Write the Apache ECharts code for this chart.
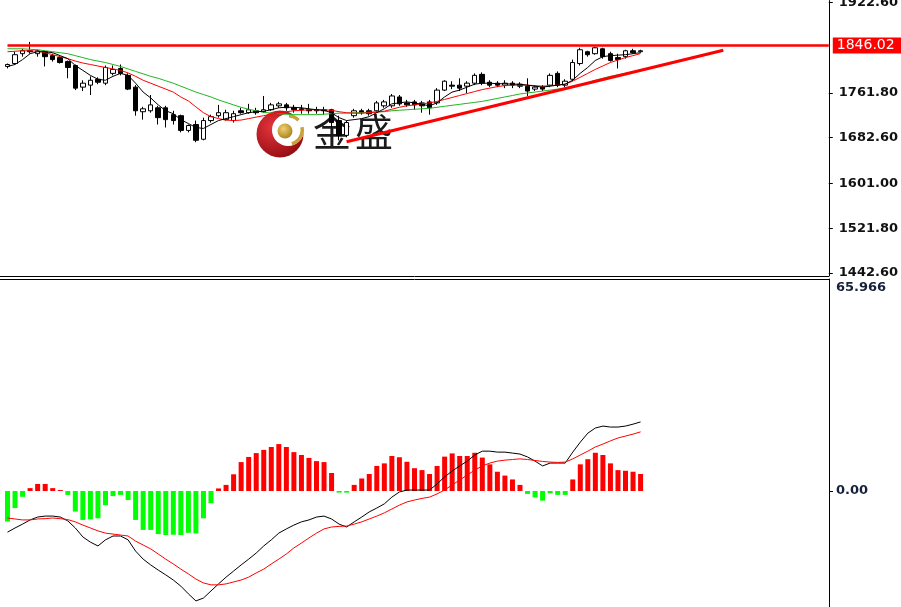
<!DOCTYPE html>
<html><head><meta charset="utf-8">
<script src="https://cdn.jsdelivr.net/npm/echarts@6/dist/echarts.min.js"></script>
<style>html,body{margin:0;padding:0;background:#fff;overflow:hidden;width:901px;height:607px;position:relative}
#c{position:absolute;left:0;top:-4px;width:901px;height:611px}</style>
</head><body><div id="c"></div><script>
// ---- data ----
// candles: [open, close, low, high]
const ohlc = [
[1809.0,1812.5,1805.5,1814.2],[1814.2,1829.9,1812.5,1835.2],[1831.7,1836.9,1826.4,1840.4],[1836.9,1835.2,1831.7,1852.6],
[1831.7,1836.9,1826.4,1838.7],[1835.2,1826.4,1809.0,1836.9],[1828.2,1821.2,1817.7,1831.7],[1824.7,1816.0,1814.2,1828.2],
[1817.7,1807.2,1788.0,1819.5],[1810.7,1770.5,1767.0,1812.5],[1772.3,1779.3,1765.3,1784.5],[1775.8,1784.5,1758.3,1791.5],
[1786.3,1781.0,1777.5,1789.7],[1779.3,1807.2,1775.8,1810.7],[1796.7,1803.7,1793.2,1810.7],[1805.5,1796.7,1793.2,1812.5],
[1793.2,1768.8,1767.0,1796.7],[1772.3,1730.3,1721.6,1775.8],[1728.6,1733.8,1714.6,1737.3],[1730.3,1740.8,1726.9,1758.3],
[1735.6,1718.1,1705.9,1739.1],[1735.6,1714.6,1700.6,1739.1],[1723.4,1712.9,1705.9,1730.3],[1721.6,1695.4,1691.9,1723.4],
[1695.4,1704.1,1691.9,1705.9],[1705.9,1677.9,1674.5,1712.9],[1679.7,1712.9,1677.9,1718.1],[1712.9,1719.9,1709.4,1723.4],
[1721.6,1726.9,1718.1,1740.8],[1714.6,1726.9,1712.9,1732.1],[1712.9,1725.1,1709.4,1730.3],[1730.3,1726.9,1725.1,1735.6],
[1726.9,1732.1,1725.1,1742.6],[1730.3,1726.9,1723.4,1735.6],[1728.6,1732.1,1726.9,1756.6],[1732.1,1740.8,1730.3,1744.3],
[1739.1,1742.6,1735.6,1746.1],[1740.8,1735.6,1730.3,1744.3],[1735.6,1732.1,1726.9,1740.8],[1733.8,1732.1,1725.1,1740.8],
[1732.1,1730.3,1725.1,1742.6],[1730.3,1732.1,1725.1,1737.3],[1732.1,1730.3,1723.4,1737.3],[1732.1,1709.4,1700.6,1733.8],
[1712.9,1686.6,1677.9,1721.6],[1686.6,1709.4,1683.2,1712.9],[1721.6,1730.3,1718.1,1733.8],[1730.3,1726.9,1723.4,1733.8],
[1730.3,1725.1,1721.6,1733.8],[1730.3,1744.3,1726.9,1747.8],[1739.1,1746.1,1735.6,1749.6],[1739.1,1756.6,1735.6,1760.1],
[1754.8,1742.6,1739.1,1758.3],[1744.3,1740.8,1737.3,1749.6],[1746.1,1740.8,1732.1,1749.6],[1744.3,1739.1,1726.9,1747.8],
[1746.1,1735.6,1723.4,1749.6],[1744.3,1767.0,1740.8,1770.5],[1767.0,1782.8,1765.3,1784.5],[1775.8,1774.0,1768.8,1782.8],
[1775.8,1770.5,1765.3,1788.0],[1774.0,1779.3,1761.8,1782.8],[1779.3,1793.2,1775.8,1796.7],[1795.0,1779.3,1775.8,1798.5],
[1781.0,1775.8,1772.3,1784.5],[1779.3,1775.8,1772.3,1782.8],[1775.8,1779.3,1770.5,1784.5],[1779.3,1775.8,1770.5,1782.8],
[1777.5,1774.0,1770.5,1781.0],[1774.0,1765.3,1756.6,1788.0],[1768.8,1772.3,1765.3,1775.8],[1772.3,1768.8,1765.3,1775.8],
[1775.8,1793.2,1772.3,1796.7],[1796.7,1775.8,1772.3,1800.2],[1775.8,1782.8,1772.3,1786.3],[1786.3,1816.0,1782.8,1821.2],
[1814.2,1838.7,1810.7,1842.2],[1835.2,1829.9,1826.4,1836.9],[1831.7,1842.2,1829.9,1843.9],[1840.4,1826.4,1822.9,1842.2],
[1831.7,1819.5,1817.7,1835.2],[1824.7,1821.2,1805.5,1831.7],[1826.4,1836.9,1822.9,1838.7],[1836.9,1833.4,1831.7,1840.4],
[1835.2,1836.9,1833.4,1838.7]
];
const maFast = [1809.0,1812.5,1821.2,1831.7,1835.2,1835.2,1833.4,1828.2,1822.9,1810.7,1802.0,1793.2,1786.3,1784.5,1791.5,1796.7,1793.2,1779.3,1763.5,1753.1,1740.8,1730.3,1725.1,1714.6,1707.6,1700.7,1698.9,1705.9,1712.9,1716.4,1719.9,1723.4,1726.9,1728.6,1729.5,1732.1,1735.6,1736.5,1736.5,1735.6,1733.8,1732.1,1731.2,1726.9,1718.1,1712.9,1714.6,1716.4,1719.9,1726.9,1733.8,1742.6,1744.3,1746.1,1744.3,1741.7,1739.1,1744.3,1754.8,1763.5,1767.0,1772.3,1777.5,1779.3,1779.3,1778.4,1778.4,1777.5,1777.5,1775.8,1774.0,1772.3,1774.0,1775.8,1777.5,1784.5,1796.7,1807.2,1819.5,1826.4,1828.2,1829.1,1829.9,1831.7,1833.4];
const maMid = [1835.2,1836.0,1836.9,1836.9,1836.0,1833.4,1829.9,1826.4,1822.9,1818.6,1815.1,1812.5,1809.8,1807.2,1804.6,1802.0,1797.6,1791.5,1784.5,1779.3,1774.0,1768.8,1763.5,1754.8,1747.8,1737.3,1726.9,1719.9,1716.4,1713.8,1712.9,1713.8,1716.4,1719.0,1721.6,1724.2,1726.9,1728.6,1730.3,1731.2,1732.1,1732.1,1732.1,1731.2,1728.6,1726.9,1726.0,1726.0,1726.9,1727.7,1729.5,1733.0,1736.5,1739.1,1740.8,1742.6,1744.3,1747.0,1750.4,1753.9,1757.4,1760.9,1764.4,1767.9,1770.5,1773.2,1774.9,1775.8,1775.8,1775.8,1774.9,1774.0,1774.9,1775.8,1777.5,1782.8,1789.7,1796.7,1803.7,1809.8,1816.0,1820.3,1824.7,1828.2,1831.7];
const maSlow = [1840.4,1840.4,1840.4,1839.5,1838.7,1836.9,1835.2,1833.4,1831.7,1828.2,1824.7,1821.2,1818.6,1816.0,1812.5,1809.0,1804.6,1800.2,1795.9,1791.5,1788.0,1783.6,1779.3,1774.0,1768.8,1763.5,1759.2,1754.8,1749.6,1745.2,1740.8,1736.5,1733.0,1730.3,1727.7,1726.0,1725.1,1724.2,1723.4,1723.4,1723.4,1723.4,1724.2,1725.1,1726.0,1726.0,1726.9,1726.9,1727.7,1728.6,1728.6,1730.3,1731.2,1732.1,1733.0,1733.8,1734.7,1736.5,1738.2,1740.0,1741.7,1743.5,1745.2,1747.0,1749.6,1752.2,1754.8,1757.4,1760.1,1761.8,1763.5,1765.3,1767.0,1768.8,1770.5,1773.2,1776.7,1780.1,1784.5,1788.0,1791.5,1794.1,1796.7,1799.4,1802.0];
const macdHist = [-9.5,-5.3,-1.8,0.9,2.2,2.2,0.9,0.3,-1.2,-6.4,-9.0,-8.8,-8.5,-4.4,-1.6,-1.2,-2.8,-9.0,-12.1,-12.1,-13.4,-13.7,-13.6,-13.7,-13.0,-13.2,-8.5,-3.8,0.8,1.9,5.2,9.0,10.6,11.8,12.8,13.7,14.6,13.7,12.1,11.2,10.3,9.3,9.0,5.6,-0.5,-0.5,1.9,3.9,5.3,7.8,8.6,10.9,10.5,9.1,7.1,6.5,5.3,7.8,10.7,11.7,10.9,10.9,11.9,10.4,8.3,6.0,4.8,3.6,1.9,-0.9,-2.0,-3.0,-0.7,-1.2,-1.2,3.6,8.3,9.9,11.9,11.2,8.6,6.5,6.3,6.0,5.3];
const macdMain = [-12.8,-11.5,-10.3,-9.0,-8.1,-7.8,-7.8,-8.1,-9.3,-11.5,-14.3,-15.9,-17.1,-15.2,-14.0,-14.0,-15.2,-18.7,-21.2,-23.0,-24.6,-26.1,-27.7,-29.6,-32.0,-34.2,-33.3,-31.1,-28.9,-26.8,-24.9,-23.0,-21.2,-19.3,-17.1,-15.2,-13.1,-11.8,-10.6,-9.6,-9.0,-8.1,-7.8,-8.7,-10.3,-11.2,-9.6,-8.1,-6.5,-5.3,-4.0,-1.9,-0.3,0.3,0.3,0.3,0.3,2.2,4.4,6.2,7.8,9.3,11.2,12.4,12.4,12.1,12.1,11.8,11.5,10.6,9.3,7.8,8.7,8.7,8.7,12.1,15.2,18.0,19.6,20.2,19.9,19.9,20.2,20.8,21.5];
const macdSignal = [-8.4,-8.7,-9.0,-9.0,-8.7,-8.6,-8.4,-8.6,-8.9,-9.6,-10.6,-11.5,-12.4,-13.1,-13.4,-13.7,-14.0,-15.6,-16.8,-18.0,-19.6,-21.2,-22.7,-24.3,-25.8,-27.4,-28.6,-29.2,-29.2,-28.9,-28.3,-27.7,-26.8,-25.5,-24.3,-22.7,-21.2,-19.6,-17.7,-16.2,-14.6,-13.1,-11.8,-11.2,-11.0,-10.9,-10.3,-9.6,-8.7,-7.8,-6.8,-5.6,-4.4,-3.4,-2.8,-2.3,-1.9,-0.9,0.3,1.9,3.4,5.0,6.5,7.8,8.7,9.3,9.6,9.8,10.0,9.8,9.5,9.2,9.0,8.9,9.0,10.0,11.2,12.4,13.7,14.6,15.6,16.5,17.1,17.7,18.4];
const priceTicks = [1442.6, 1521.8, 1601.0, 1682.6, 1761.8, 1922.6];
const macdTicks = [0, 65.966];
const lastPrice = 1846.02;
const trendLine = [[45, 1675.3], [95, 1837.8]];
const slotCount = 110; // chart slots incl. empty right margin
const categories = Array.from({length: slotCount}, (_, i) => String(i));

// ---- chart (container shifted up 4px so the top price label is cut like the original) ----
const OY = 4; // offset between page y and chart y
const chart = echarts.init(document.getElementById('c'), null, {renderer: 'canvas'});
const LBL = {fontFamily: '"DejaVu Sans", Verdana, sans-serif', fontSize: 13, fontWeight: 'bold'};
const option = {
  animation: false,
  backgroundColor: '#fff',
  grid: [
    {left: 7.5, right: 72, top: 0, height: 276 + OY},
    {left: 7.5, right: 72, top: 279 + OY, bottom: 0}
  ],
  xAxis: [
    {type: 'category', gridIndex: 0, data: categories, boundaryGap: false, show: false},
    {type: 'category', gridIndex: 1, data: categories, boundaryGap: false, show: false}
  ],
  yAxis: [
    {type: 'value', gridIndex: 0, position: 'right', min: 1436.85, max: 1926.0,
     splitLine: {show: false},
     axisLine: {show: true, lineStyle: {color: '#000', width: 1}},
     axisTick: {show: true, inside: false, length: 4, customValues: priceTicks, lineStyle: {color: '#000'}},
     axisLabel: Object.assign({show: true, margin: 10, color: '#111', customValues: priceTicks,
       formatter: v => v.toFixed(2)}, LBL)},
    {type: 'value', gridIndex: 1, position: 'right', min: -36.09, max: 65.966,
     splitLine: {show: false},
     axisLine: {show: true, lineStyle: {color: '#000', width: 1}},
     axisTick: {show: true, inside: false, length: 4, customValues: [0], lineStyle: {color: '#000'}},
     axisLabel: Object.assign({show: true, margin: 7, color: '#16213a', customValues: macdTicks,
       formatter: v => (v === 0 ? v.toFixed(2) : '{top|' + v.toFixed(3) + '}'),
       rich: {top: Object.assign({padding: [17, 0, 0, 0], color: '#16213a'}, LBL)}}, LBL)}
  ],
  graphic: [
    {type: 'line', silent: true, z: 5, shape: {x1: 0, y1: 276.5 + OY, x2: 829, y2: 276.5 + OY}, style: {stroke: '#000', lineWidth: 1}},
    {type: 'line', silent: true, z: 5, shape: {x1: 0, y1: 279.5 + OY, x2: 829, y2: 279.5 + OY}, style: {stroke: '#000', lineWidth: 1}},
    {type: 'group', silent: true, z: 0, x: 0, y: OY, children: [
      {type: 'circle', shape: {cx: 280, cy: 134, r: 23.5},
       style: {fill: new echarts.graphic.RadialGradient(0.35, 0.35, 0.75, [{offset: 0, color: '#e5343c'}, {offset: 1, color: '#8f0a10'}])}},
      {type: 'circle', shape: {cx: 288, cy: 130, r: 16}, style: {fill: '#fff'}},
      {type: 'sector', shape: {cx: 288, cy: 130, r0: 12.5, r: 16, startAngle: -0.2, endAngle: 1.3}, style: {fill: '#c9a23a'}},
      {type: 'sector', shape: {cx: 288, cy: 130, r0: 12.5, r: 16, startAngle: -1.5, endAngle: -0.75}, style: {fill: '#c9a23a'}},
      {type: 'circle', shape: {cx: 285, cy: 131, r: 7.5},
       style: {fill: new echarts.graphic.RadialGradient(0.4, 0.35, 0.7, [{offset: 0, color: '#f0d070'}, {offset: 1, color: '#a8801e'}])}},
      {type: 'text', x: 313, y: 132, style: {text: '金', font: '38px "Noto Sans CJK SC"', fill: '#1b1b1b', verticalAlign: 'middle'}},
      {type: 'text', x: 355, y: 132, style: {text: '盛', font: '38px "Noto Sans CJK SC"', fill: '#1b1b1b', verticalAlign: 'middle'}}
    ]}
  ],
  series: [
    {type: 'candlestick', xAxisIndex: 0, yAxisIndex: 0, data: ohlc, barWidth: 5, z: 3,
     itemStyle: {color: '#fff', color0: '#000', borderColor: '#000', borderColor0: '#000', borderWidth: 1},
     markLine: {silent: true, symbol: ['none', 'none'], animation: false,
       data: [
         {yAxis: lastPrice, lineStyle: {color: '#ff0000', width: 2.5, type: 'solid'},
          label: {show: true, position: 'end', distance: 4, formatter: () => lastPrice.toFixed(2),
            backgroundColor: '#ff0000', color: '#fff', padding: [1, 8, 1, 4], lineHeight: 14,
            fontFamily: LBL.fontFamily, fontSize: 14, fontWeight: 'normal'}},
         [{coord: [trendLine[0][0], trendLine[0][1]], lineStyle: {color: '#ff0000', width: 3, type: 'solid'}, label: {show: false}},
          {coord: [trendLine[1][0], trendLine[1][1]]}]
       ]}},
    {type: 'line', xAxisIndex: 0, yAxisIndex: 0, data: maSlow, symbol: 'none', z: 4, lineStyle: {color: '#22b422', width: 1}},
    {type: 'line', xAxisIndex: 0, yAxisIndex: 0, data: maMid, symbol: 'none', z: 4, lineStyle: {color: '#ff0000', width: 1}},
    {type: 'line', xAxisIndex: 0, yAxisIndex: 0, data: maFast, symbol: 'none', z: 4, lineStyle: {color: '#000', width: 1}},
    {type: 'bar', xAxisIndex: 1, yAxisIndex: 1, barWidth: 5,
     data: macdHist.map(v => ({value: v, itemStyle: {color: v >= 0 ? '#ff0000' : '#00ff00'}}))},
    {type: 'line', xAxisIndex: 1, yAxisIndex: 1, data: macdMain, symbol: 'none', z: 4, lineStyle: {color: '#000', width: 1}},
    {type: 'line', xAxisIndex: 1, yAxisIndex: 1, data: macdSignal, symbol: 'none', z: 4, lineStyle: {color: '#ff0000', width: 1}}
  ]
};
chart.setOption(option);
</script></body></html>
